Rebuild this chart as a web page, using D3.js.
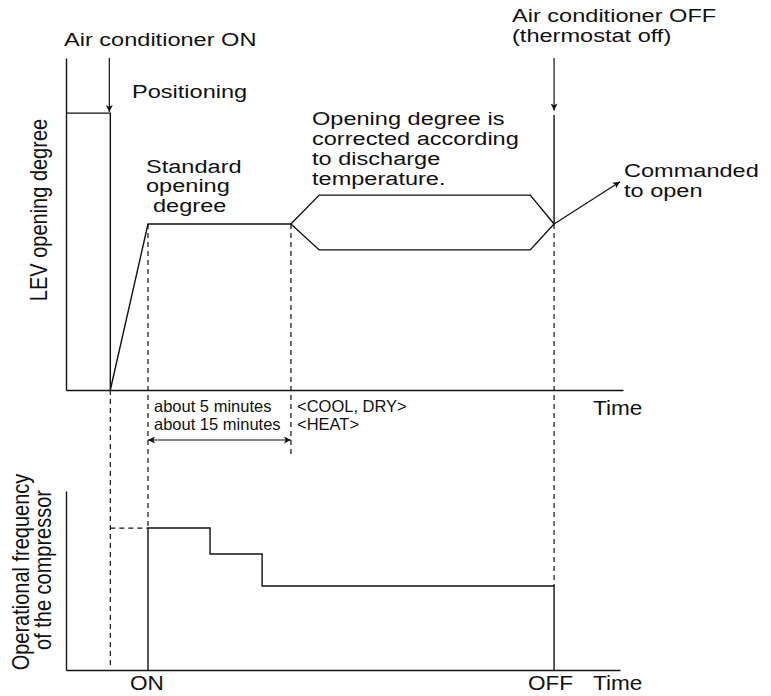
<!DOCTYPE html>
<html>
<head>
<meta charset="utf-8">
<script src="https://cdn.jsdelivr.net/npm/d3@7"></script>
<style>
  body { margin: 0; background: #fff; }
  text { font-family: "Liberation Sans", Arial, Helvetica, sans-serif; fill: #111; }
</style>
</head>
<body>
<div id="chart"></div>
<script>
// schematic time runs 0..100, shared by both panels
const tOn = 8, tStd = 14.8, tCorr = 40.6, tOff = 88.1;

// LEV opening degree (0..100)
const levPositioning = [[0, 83.4], [tOn, 83.4], [tOn, 0], [tStd, 50], [tCorr, 50]];
const levUpper = [[tCorr, 50], [45.7, 58.7], [83.8, 58.7], [tOff, 50]];
const levLower = [[tCorr, 50], [45.7, 42.2], [83.8, 42.2], [tOff, 50]];
const levOffLine = [[tOff, 50], [tOff, 82.8]];
const commandedOpen = [[tOff, 50], [100, 62.7]];

// compressor frequency (0..100)
const freqSteps = [[tStd, 0], [tStd, 79.3], [26, 79.3], [26, 64.8], [35.4, 64.8], [35.4, 46.9], [tOff, 46.9], [tOff, 0]];
const freqPreset = [[tOn, 79.3], [tStd, 79.3]];

const width = 771, height = 696;
const sx = 1.24; // labels are drawn a bit wide

const svg = d3.select('#chart').append('svg')
  .attr('width', width)
  .attr('height', height);

const x = d3.scaleLinear().domain([0, 100]).range([66, 620]);
const yLev = d3.scaleLinear().domain([0, 100]).range([390, 58]);
const yFreq = d3.scaleLinear().domain([0, 100]).range([670, 491]);

const defs = svg.append('defs');
defs.append('marker')
  .attr('id', 'head')
  .attr('viewBox', '0 0 10 10')
  .attr('refX', 10).attr('refY', 5)
  .attr('markerWidth', 11).attr('markerHeight', 7)
  .attr('markerUnits', 'userSpaceOnUse')
  .attr('orient', 'auto-start-reverse')
  .append('path')
  .attr('d', 'M0,0 L10,5 L0,10 L2.5,5 z')
  .attr('fill', '#111');

const ink = '#111';
const lw = 1.4;

// axes (no ticks, just the lines)
svg.append('g')
  .attr('transform', `translate(0,${yLev(0)})`)
  .call(d3.axisBottom(x.copy().range([66, 623])).ticks(0).tickSizeOuter(0));
svg.append('g')
  .attr('transform', `translate(${x(0)},0)`)
  .call(d3.axisLeft(yLev).ticks(0).tickSizeOuter(0));
svg.append('g')
  .attr('transform', `translate(0,${yFreq(0)})`)
  .call(d3.axisBottom(x).ticks(0).tickSizeOuter(0));
svg.append('g')
  .attr('transform', `translate(${x(0)},0)`)
  .call(d3.axisLeft(yFreq).ticks(0).tickSizeOuter(0));
svg.selectAll('.domain').attr('stroke', ink).attr('stroke-width', lw);

const levLine = d3.line().x(d => x(d[0])).y(d => yLev(d[1]));
const freqLine = d3.line().x(d => x(d[0])).y(d => yFreq(d[1]));

// dashed guides
const spanY = 440;
const guides = [
  { t: tOn, y0: yLev(0), y1: yFreq(1) },
  { t: tStd, y0: yLev(50), y1: yFreq(79.3) },
  { t: tCorr, y0: yLev(50), y1: spanY + 15 },
  { t: tOff, y0: yLev(50), y1: yFreq(46.9) }
];
svg.selectAll('.guide')
  .data(guides)
  .enter()
  .append('line')
  .attr('class', 'guide')
  .attr('x1', d => x(d.t)).attr('x2', d => x(d.t))
  .attr('y1', d => d.y0).attr('y2', d => d.y1)
  .attr('stroke', ink).attr('stroke-width', 1.2)
  .attr('stroke-dasharray', '5,4');
svg.append('path')
  .attr('d', freqLine(freqPreset))
  .attr('fill', 'none').attr('stroke', ink).attr('stroke-width', 1.2)
  .attr('stroke-dasharray', '5,4');

// solid curves
[levPositioning, levUpper, levLower, levOffLine].forEach(pts => {
  svg.append('path')
    .attr('d', levLine(pts))
    .attr('fill', 'none').attr('stroke', ink).attr('stroke-width', lw);
});
svg.append('path')
  .attr('d', freqLine(freqSteps))
  .attr('fill', 'none').attr('stroke', ink).attr('stroke-width', lw);

// arrows
const arrow = (x1, y1, x2, y2, both) => {
  const l = svg.append('line')
    .attr('x1', x1).attr('y1', y1).attr('x2', x2).attr('y2', y2)
    .attr('stroke', ink).attr('stroke-width', 1.2)
    .attr('marker-end', 'url(#head)');
  if (both) l.attr('marker-start', 'url(#head)');
};
arrow(x(tOn) - 1, yLev(100), x(tOn) - 1, yLev(83.4) - 1);
arrow(x(tOff), yLev(100), x(tOff), yLev(84.2));
arrow(x(commandedOpen[0][0]), yLev(commandedOpen[0][1]), x(commandedOpen[1][0]), yLev(commandedOpen[1][1]));
arrow(x(tStd), spanY, x(tCorr), spanY, true);

// text
const label = (tx, ty, lines, opts = {}) => {
  const size = opts.size || 19;
  const lh = opts.lh || 19.5;
  const t = svg.append('text')
    .attr('transform', `translate(${tx},${ty}) scale(${opts.sx || sx},1)${opts.rot ? ' rotate(-90)' : ''}`)
    .attr('font-size', size)
    .attr('text-anchor', opts.anchor || 'start');
  lines.forEach((s, i) => {
    t.append('tspan').attr('x', 0).attr('y', i * lh).text(s);
  });
};

label(64, 46, ['Air conditioner ON']);
label(132, 98, ['Positioning']);
label(146, 173, ['Standard', 'opening']);
label(153, 212, ['degree']);
label(312, 125, ['Opening degree is', 'corrected according', 'to discharge', 'temperature.'], { lh: 20 });
label(512, 22, ['Air conditioner OFF', '(thermostat off)'], { lh: 20.5 });
label(624, 177, ['Commanded', 'to open'], { lh: 20 });
label(593, 415, ['Time'], { size: 20, sx: 1.13 });

label(154, 412, ['about 5 minutes', 'about 15 minutes'], { size: 16.5, lh: 18, sx: 1 });
label(297, 412, ['<COOL, DRY>', '<HEAT>'], { size: 16.5, lh: 18, sx: 1 });

label(130, 690, ['ON'], { size: 20, sx: 1.13 });
label(528, 690, ['OFF'], { size: 20, sx: 1.13 });
label(593, 690, ['Time'], { size: 20, sx: 1.13 });

label(47, 210, ['LEV opening degree'], { rot: true, anchor: 'middle', size: 20, sx: 1.18 });
label(29, 572, ['Operational frequency'], { rot: true, anchor: 'middle', size: 20, sx: 1.18 });
label(51, 570, ['of the compressor'], { rot: true, anchor: 'middle', size: 20, sx: 1.18 });
</script>
</body>
</html>
